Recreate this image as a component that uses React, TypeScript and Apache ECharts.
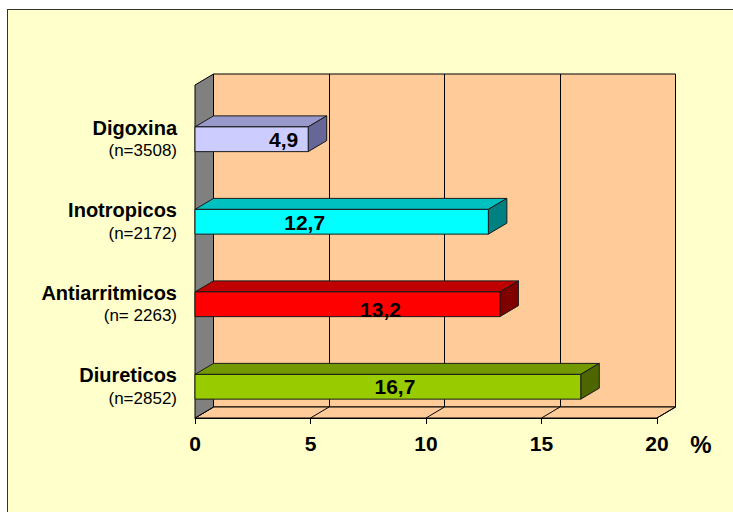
import React, { useEffect, useRef } from "react";
import * as echarts from "echarts";

// Chart data
const CATEGORIES = ["Digoxina", "Inotropicos", "Antiarritmicos", "Diureticos"];
const SAMPLE_SIZES = ["(n=3508)", "(n=2172)", "(n= 2263)", "(n=2852)"];
const PERCENTS = [4.9, 12.7, 13.2, 16.7];
const TICKS = [0, 5, 10, 15, 20];

// Face colours of each 3D bar: front, top, side
const BAR_FACES = [
  ["#CCCCFF", "#9999CC", "#666699"],
  ["#00FFFF", "#00C0C0", "#008080"],
  ["#FF0000", "#C00000", "#800000"],
  ["#99CC00", "#739900", "#4D6600"],
];
// Pixel nudges of the value labels inside each bar (x, y)
const LABEL_SHIFT = [
  [32, 0],
  [-37, 1],
  [33, 5],
  [7, 0],
];

// 3D depth projection
const DX = 18.5;
const DY = -11;
const FONT = "'Liberation Sans', Arial, sans-serif";
const WALL = "#FFCC99";
const EDGE = "#000000";

const fmt = (v: number) => v.toFixed(1).replace(".", ",");

export default function App() {
  const ref = useRef<HTMLDivElement>(null);

  useEffect(() => {
    if (!ref.current) return;
    const chart = echarts.init(ref.current, undefined, { renderer: "svg" });

    const xMin = TICKS[0];
    const xMax = TICKS[TICKS.length - 1];

    const option: any = {
      animation: false,
      backgroundColor: "transparent",
      grid: [
        // back wall
        {
          left: 195 + DX,
          top: 85 + DY,
          width: 462,
          height: 333,
          show: true,
          backgroundColor: WALL,
          borderColor: EDGE,
          borderWidth: 1,
        },
        // front edge of the floor (value axis)
        { left: 195, top: 85, width: 462, height: 333 },
        // bars
        { left: 195, top: 98, width: 462, height: 330 },
      ],
      xAxis: [
        {
          gridIndex: 0,
          type: "value",
          min: xMin,
          max: xMax,
          interval: 5,
          axisLine: { show: false },
          axisTick: { show: false },
          axisLabel: { show: false },
          splitLine: { show: true, lineStyle: { color: EDGE, width: 1 } },
        },
        {
          gridIndex: 1,
          type: "value",
          min: xMin,
          max: xMax,
          interval: 5,
          axisLine: { show: true, lineStyle: { color: EDGE, width: 1 } },
          axisTick: { show: true, length: 6, lineStyle: { color: EDGE } },
          axisLabel: {
            show: true,
            margin: 15,
            color: "#000",
            fontFamily: FONT,
            fontWeight: "bold",
            fontSize: 21,
          },
          splitLine: { show: false },
        },
        {
          gridIndex: 2,
          type: "value",
          min: xMin,
          max: xMax,
          show: false,
        },
      ],
      yAxis: [
        { gridIndex: 0, type: "value", min: 0, max: 1, show: false },
        { gridIndex: 1, type: "value", min: 0, max: 1, show: false },
        {
          gridIndex: 2,
          type: "category",
          inverse: true,
          data: CATEGORIES,
          axisLine: { show: false },
          axisTick: { show: false },
          axisLabel: {
            margin: 18,
            align: "right",
            formatter: (v: string, i: number) => `{name|${v}}\n{n|${SAMPLE_SIZES[i]}}`,
            rich: {
              name: {
                fontFamily: FONT,
                fontWeight: "bold",
                fontSize: 20,
                color: "#000",
                lineHeight: 23,
                align: "right",
              },
              n: {
                fontFamily: FONT,
                fontSize: 17,
                color: "#000",
                lineHeight: 23,
                align: "right",
              },
            },
          },
        },
      ],
      series: [
        // floor and left wall
        {
          type: "custom",
          xAxisIndex: 1,
          yAxisIndex: 1,
          data: [[0, 0]],
          silent: true,
          z: 1,
          renderItem: (_params: any, api: any) => {
            const fl = api.coord([xMin, 0]);
            const fr = api.coord([xMax, 0]);
            const tl = api.coord([xMin, 1]);
            const children: any[] = [
              {
                type: "polygon",
                shape: {
                  points: [
                    fl,
                    fr,
                    [fr[0] + DX, fr[1] + DY],
                    [fl[0] + DX, fl[1] + DY],
                  ],
                },
                style: { fill: WALL, stroke: EDGE, lineWidth: 1 },
              },
            ];
            TICKS.forEach((t) => {
              const p = api.coord([t, 0]);
              children.push({
                type: "line",
                shape: { x1: p[0], y1: p[1], x2: p[0] + DX, y2: p[1] + DY },
                style: { stroke: EDGE, lineWidth: 1 },
              });
            });
            children.push({
              type: "polygon",
              shape: {
                points: [
                  tl,
                  [tl[0] + DX, tl[1] + DY],
                  [fl[0] + DX, fl[1] + DY],
                  fl,
                ],
              },
              style: { fill: "#808080", stroke: EDGE, lineWidth: 1 },
            });
            return { type: "group", children };
          },
        },
        // 3D bars
        {
          type: "custom",
          xAxisIndex: 2,
          yAxisIndex: 2,
          encode: { x: 0, y: 1 },
          data: PERCENTS.map((v, i) => [v, i]),
          z: 3,
          renderItem: (params: any, api: any) => {
            const i = params.dataIndex;
            const val = api.value(0);
            const cat = api.value(1);
            const start = api.coord([0, cat]);
            const end = api.coord([val, cat]);
            const band = api.size([0, 1])[1];
            const h = band * 0.3;
            const x0 = start[0];
            const x1 = end[0];
            const top = start[1] - h / 2;
            const bottom = start[1] + h / 2;
            const [front, topC, side] = BAR_FACES[i];
            const stroke = { stroke: "#1a1a1a", lineWidth: 1 };
            return {
              type: "group",
              children: [
                {
                  type: "polygon",
                  shape: {
                    points: [
                      [x0, top],
                      [x1, top],
                      [x1 + DX, top + DY],
                      [x0 + DX, top + DY],
                    ],
                  },
                  style: { fill: topC, ...stroke },
                },
                {
                  type: "polygon",
                  shape: {
                    points: [
                      [x1, top],
                      [x1 + DX, top + DY],
                      [x1 + DX, bottom + DY],
                      [x1, bottom],
                    ],
                  },
                  style: { fill: side, ...stroke },
                },
                {
                  type: "rect",
                  shape: { x: x0, y: top, width: x1 - x0, height: h },
                  style: { fill: front, ...stroke },
                },
                {
                  type: "text",
                  x: (x0 + x1) / 2 + LABEL_SHIFT[i][0],
                  y: start[1] + LABEL_SHIFT[i][1],
                  style: {
                    text: fmt(val),
                    fill: "#000",
                    font: `bold 21px ${FONT}`,
                    align: "center",
                    verticalAlign: "middle",
                  },
                },
              ],
            };
          },
        },
      ],
      graphic: [
        {
          type: "text",
          x: 701,
          y: 444,
          style: {
            text: "%",
            fill: "#000",
            font: `bold 24px ${FONT}`,
            align: "center",
            verticalAlign: "middle",
          },
        },
      ],
    };

    chart.setOption(option);
    return () => chart.dispose();
  }, []);

  return (
    <div
      style={{
        position: "fixed",
        left: 0,
        top: 0,
        width: 733,
        height: 512,
        background: "#ffffff",
        overflow: "hidden",
      }}
    >
      <div
        style={{
          position: "absolute",
          left: 7,
          top: 9,
          width: 740,
          height: 520,
          background: "#FFFFCC",
          border: "1px solid #333333",
          boxSizing: "border-box",
        }}
      />
      <div
        ref={ref}
        style={{ position: "absolute", left: 0, top: 0, width: 733, height: 512 }}
      />
    </div>
  );
}
